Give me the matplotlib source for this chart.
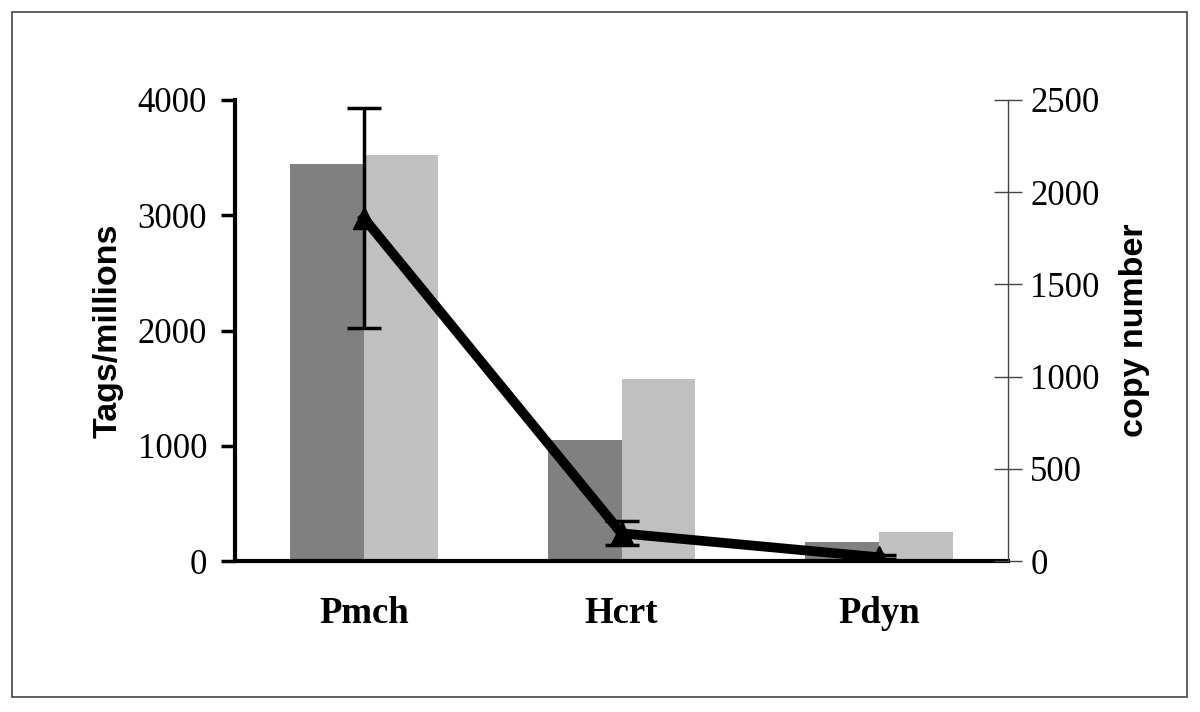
import matplotlib.pyplot as plt
from matplotlib.patches import Rectangle
import numpy as np

genes = ["Pmch", "Hcrt", "Pdyn"]
tags_a = [3445, 1050, 165]
tags_b = [3523, 1579, 252]
copies = [1860, 150, 20]
copies_err = [595, 65, 10]

SERIF = "Liberation Serif"
SANS = "Liberation Sans"

fig = plt.figure(figsize=(12, 7.12), dpi=100)
fig.patches.append(Rectangle((12 / 1200, 15 / 712), 1175 / 1200, 685 / 712,
                             transform=fig.transFigure, fill=False,
                             edgecolor="#444444", linewidth=1.2))

ax = fig.add_axes([235 / 1200, 151 / 712, 773 / 1200, 461 / 712])
x = np.arange(len(genes))
w = 0.287
ax.bar(x - w / 2, tags_a, w, color="#808080", zorder=2)
ax.bar(x + w / 2, tags_b, w, color="#c0c0c0", zorder=2)
ax.set_xlim(-0.5, 2.5)
ax.set_ylim(0, 4000)
ax.set_yticks([0, 1000, 2000, 3000, 4000])
ax.set_xticks(x)
ax.set_xticklabels(genes, fontfamily=SERIF, fontweight="bold", fontsize=26.5)
ax.tick_params(axis="x", length=0, pad=25)
ax.tick_params(axis="y", direction="out", length=10, width=2.5, pad=10,
               labelsize=25)
for t in ax.get_yticklabels():
    t.set_fontfamily(SERIF)
ax.spines["top"].set_visible(False)
ax.spines["right"].set_visible(False)
ax.spines["left"].set_linewidth(3)
ax.spines["bottom"].set_linewidth(3)
ax.set_ylabel("Tags/millions", fontfamily=SANS, fontweight="bold",
              fontsize=24.5, labelpad=10)

ax2 = ax.twinx()
ax2.set_ylim(0, 2500)
ax2.set_yticks([0, 500, 1000, 1500, 2000, 2500])
ax2.errorbar(x, copies, yerr=copies_err, color="black", linewidth=7,
             marker="^", markersize=16, elinewidth=2.5, capsize=12,
             capthick=2.5, zorder=5)
ax2.tick_params(axis="y", direction="inout", length=20, width=1,
                color="#444444", pad=6, labelsize=25)
for t in ax2.get_yticklabels():
    t.set_fontfamily(SERIF)
ax2.spines["top"].set_visible(False)
ax2.spines["left"].set_visible(False)
ax2.spines["bottom"].set_visible(False)
ax2.spines["right"].set_color("#444444")
ax2.spines["right"].set_linewidth(1)
ax2.set_ylabel("copy number", fontfamily=SANS, fontweight="bold",
               fontsize=24.5, labelpad=14)

fig.savefig("out.png", dpi=100)
